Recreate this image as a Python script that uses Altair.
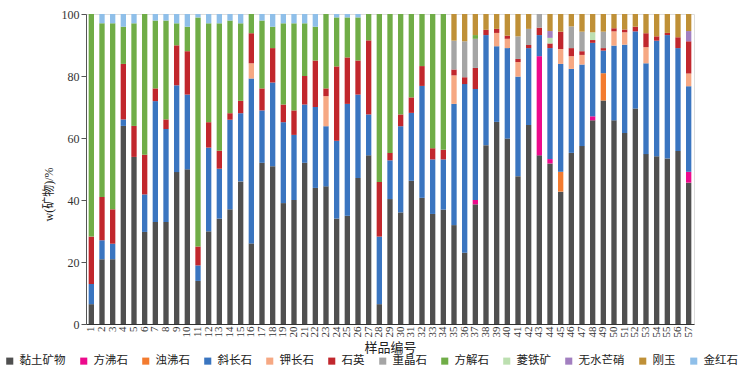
import altair as alt
import pandas as pd

samples = [str(i) for i in range(1, 58)]

minerals = ["黏土矿物", "方沸石", "浊沸石", "斜长石", "钾长石", "石英",
            "重晶石", "方解石", "菱铁矿", "无水芒硝", "刚玉", "金红石"]
colors = ["#505050", "#ec0a8c", "#f37b2f", "#3a75c0", "#f6a883", "#c1272d",
          "#a5a5a5", "#70ad47", "#bcdfb0", "#a27fc0", "#bf9037", "#8fbfe9"]

clay = [6.4, 20.9, 20.9, 63.9, 53.9, 29.7, 32.9, 32.9, 49.0, 49.9,
        13.9, 29.9, 34.0, 37.0, 46.0, 26.0, 52.0, 50.9, 39.0, 40.0,
        52.0, 43.9, 44.4, 34.0, 34.9, 47.1, 54.4, 6.4, 40.3, 36.0,
        46.2, 40.7, 35.5, 36.9, 31.9, 23.0, 38.6, 57.7, 65.2, 59.8,
        47.7, 64.2, 54.4, 51.8, 42.7, 55.2, 57.4, 65.7, 72.1, 65.7,
        61.6, 69.5, 54.8, 54.1, 53.4, 55.8, 45.6]
analcime = [0, 0, 0, 0, 0, 0, 0, 0, 0, 0,
            0, 0, 0, 0, 0, 0, 0, 0, 0, 0,
            0, 0, 0, 0, 0, 0, 0, 0, 0, 0,
            0, 0, 0, 0, 0, 0, 1.4, 0, 0, 0,
            0, 0, 32.0, 1.4, 0, 0, 0, 1.3, 0, 0,
            0, 0, 0, 0, 0, 0, 3.5]
laumontite = [0, 0, 0, 0, 0, 0, 0, 0, 0, 0,
              0, 0, 0, 0, 0, 0, 0, 0, 0, 0,
              0, 0, 0, 0, 0, 0, 0, 0, 0, 0,
              0, 0, 0, 0, 0, 0, 0, 0, 0, 0,
              0, 0, 0, 0, 6.4, 0, 0, 0, 8.8, 0,
              0, 0, 0, 0, 0, 0, 0]
plagioclase = [6.5, 6.1, 5.0, 2.1, 0, 12.1, 39.0, 30.0, 28.0, 24.1,
               5.0, 27.0, 16.1, 28.9, 22.0, 53.2, 16.9, 27.0, 26.1, 21.0,
               18.8, 26.1, 19.4, 25.1, 36.1, 26.9, 13.2, 21.8, 12.5, 27.8,
               21.9, 36.1, 17.6, 16.2, 39.1, 54.4, 35.8, 35.5, 24.4, 29.2,
               32.1, 24.8, 6.8, 35.8, 34.8, 27.1, 26.3, 23.7, 7.3, 24.1,
               28.5, 24.9, 29.3, 37.3, 39.8, 33.2, 27.6]
kfeldspar = [0, 0, 0, 0, 0, 0, 0, 0, 0, 0,
             0, 0, 0, 0, 0, 4.9, 0, 0, 0, 0,
             0, 0, 9.7, 0, 0, 0, 0, 0, 0, 0,
             0, 0, 0, 0, 9.2, 0, 0, 0, 4.3, 3.0,
             4.7, 0, 0, 0, 4.8, 4.1, 3.1, 0, 0, 4.6,
             4.0, 0, 5.2, 0, 0, 0, 4.1]
quartz = [15.3, 14.0, 11.1, 17.9, 10.0, 12.8, 4.1, 3.1, 12.9, 14.0,
          6.1, 8.2, 5.8, 2.1, 4.0, 9.7, 7.1, 11.1, 5.7, 7.9,
          9.2, 15.0, 2.5, 24.0, 15.0, 11.0, 23.9, 17.6, 2.4, 3.8,
          5.0, 6.4, 3.6, 3.1, 1.9, 2.2, 6.8, 1.7, 1.3, 1.0,
          1.0, 1.0, 2.4, 1.5, 5.6, 2.6, 1.2, 0.9, 0.8, 1.0,
          0.9, 1.5, 4.5, 1.4, 0.7, 3.5, 10.4]
barite = [0, 0, 0, 0, 0, 0, 0, 0, 0, 0,
          0, 0, 0, 0, 0, 0, 0, 0, 0, 0,
          0, 0, 0, 0, 0, 0, 0, 0, 0, 0,
          0, 0, 0, 0, 9.3, 11.6, 9.4, 0, 0, 0,
          7.3, 5.2, 4.4, 0, 0, 7.0, 6.3, 0, 5.3, 0,
          0, 0, 0, 0, 0, 0, 0]
calcite = [71.8, 56.0, 60.0, 12.0, 33.1, 45.4, 21.9, 31.9, 7.1, 7.9,
           73.9, 31.9, 41.1, 29.9, 25.0, 6.2, 21.9, 6.9, 26.2, 28.1,
           17.0, 10.9, 24.0, 15.8, 12.9, 13.9, 8.5, 54.2, 44.8, 32.4,
           26.9, 16.8, 43.3, 43.8, 0, 0, 1.2, 0, 0, 0,
           0, 0, 0, 0, 0, 0, 0, 0, 0, 0,
           0, 0, 0, 0, 0, 0, 0]
siderite = [0, 0, 0, 0, 0, 0, 0, 0, 0, 0,
            0, 0, 0, 0, 0, 0, 0, 0, 0, 0,
            0, 0, 0, 0, 0, 0, 0, 0, 0, 0,
            0, 0, 0, 0, 0, 0, 0, 0, 0, 0,
            0, 0, 0, 1.8, 0, 0, 0, 2.5, 0, 0,
            0, 0, 0, 0, 0, 0, 0]
thenardite = [0, 0, 0, 0, 0, 0, 0, 0, 0, 0,
              0, 0, 0, 0, 0, 0, 0, 0, 0, 0,
              0, 0, 0, 0, 0, 0, 0, 0, 0, 0,
              0, 0, 0, 0, 0, 0, 0, 0, 0, 0,
              0, 0, 0, 2.2, 0, 0, 0, 0, 0, 0,
              0, 0, 0, 0, 0, 0, 3.3]
corundum = [0, 0, 0, 0, 0, 0, 0, 0, 0, 0,
            0, 0, 0, 0, 0, 0, 0, 0, 0, 0,
            0, 0, 0, 0, 0, 0, 0, 0, 0, 0,
            0, 0, 0, 0, 8.6, 8.8, 6.8, 5.1, 4.8, 7.0,
            7.2, 4.8, 0, 5.5, 5.7, 4.0, 5.7, 5.9, 5.7, 4.6,
            5.0, 4.1, 6.2, 7.2, 6.1, 7.5, 5.5]
rutile = [0, 3.0, 3.0, 4.1, 3.0, 0, 2.1, 2.1, 3.0, 4.1,
          1.1, 3.0, 3.0, 2.1, 3.0, 0, 2.1, 4.1, 3.0, 3.0,
          3.0, 4.1, 0, 1.1, 1.1, 1.1, 0, 0, 0, 0,
          0, 0, 0, 0, 0, 0, 0, 0, 0, 0,
          0, 0, 0, 0, 0, 0, 0, 0, 0, 0,
          0, 0, 0, 0, 0, 0, 0]

series = [clay, analcime, laumontite, plagioclase, kfeldspar, quartz,
          barite, calcite, siderite, thenardite, corundum, rutile]

rows = []
for k, (name, vals) in enumerate(zip(minerals, series)):
    for s, v in zip(samples, vals):
        rows.append({"样品": s, "矿物": name, "w": v, "k": k})
df = pd.DataFrame(rows)

FONT = "Liberation Serif, Noto Sans CJK SC"

chart = alt.Chart(df).mark_bar(strokeWidth=0).encode(
    x=alt.X("样品:N", sort=samples,
            scale=alt.Scale(paddingInner=0.5, paddingOuter=0.25),
            axis=alt.Axis(title="样品编号", labelAngle=270, labelAlign="right",
                          labelBaseline="middle", labelPadding=2, ticks=False,
                          labelFontSize=11, labelFont=FONT, titleFont=FONT,
                          titleFontSize=13, titleFontWeight="normal",
                          titlePadding=4, domainColor="#333333",
                          labelColor="#333333", titleColor="#222222")),
    y=alt.Y("w:Q", stack="zero",
            scale=alt.Scale(domain=[0, 100], nice=False),
            axis=alt.Axis(title="w(矿物)/%", values=[0, 20, 40, 60, 80, 100],
                          grid=False, tickSize=5, tickColor="#555555",
                          domainColor="#555555", labelFont=FONT,
                          labelFontSize=12, labelColor="#333333",
                          titleFont=FONT, titleFontSize=12,
                          titleFontWeight="normal", titleColor="#222222",
                          titleX=-31, titleY=180)),
    color=alt.Color("矿物:N", sort=minerals,
                    scale=alt.Scale(domain=minerals, range=colors),
                    legend=alt.Legend(title=None, orient="none", legendX=-82,
                                      legendY=341, direction="horizontal",
                                      columns=12, symbolType="square",
                                      symbolSize=50, symbolStrokeWidth=0,
                                      labelFont=FONT, labelFontSize=11.5,
                                      labelColor="#222222", columnPadding=12,
                                      labelOffset=4)),
    order=alt.Order("k:Q", sort="ascending"),
).properties(
    width=608, height=310,
    autosize=alt.AutoSizeParams(type="none"),
    padding={"left": 86, "top": 14, "right": 52, "bottom": 46},
).configure_view(stroke=None).configure(background="white")

chart.save("out.html", embed_options={"renderer": "svg", "actions": False})
